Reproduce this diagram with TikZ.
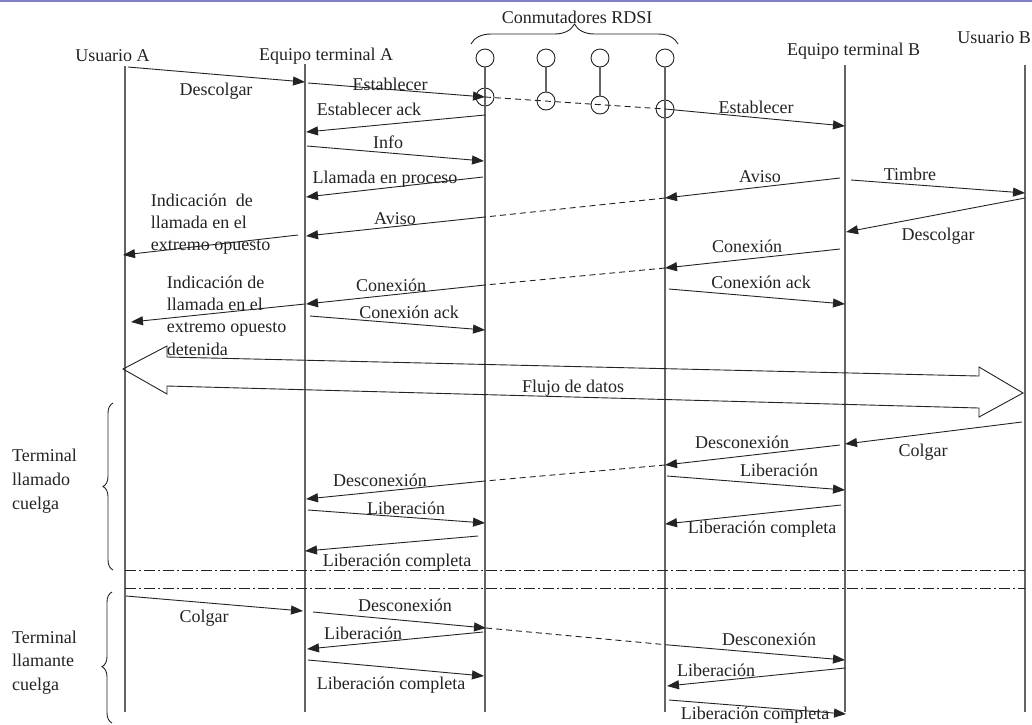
\documentclass[tikz,border=0pt]{standalone}
\usepackage{fontspec}
\setmainfont{Liberation Serif}
\usetikzlibrary{arrows.meta,decorations.pathreplacing}
\definecolor{ink}{RGB}{35,35,35}
\definecolor{lifeg}{RGB}{100,100,100}
\definecolor{topband}{RGB}{128,128,200}
% a signal between two lifelines: name, start point, end point
\newcommand\sigline[4][msg]{%
  \coordinate (#2-a) at (#3);
  \coordinate (#2-b) at (#4);
  \draw[#1] (#2-a) -- (#2-b);}
\begin{document}
\begin{tikzpicture}[x=1pt,y=-1pt,
  font=\fontsize{18}{22}\selectfont,
  lbl/.style={anchor=base,inner sep=0pt,text=ink},
  blk/.style={anchor=base west,inner sep=0pt,text=ink,align=left},
  life/.style={draw=lifeg,line width=1.3pt},
  msg/.style={draw=ink,line width=0.9pt,-{Triangle[length=12pt,width=9pt]}},
  relay/.style={draw=ink,line width=0.9pt,dash pattern=on 6pt off 4pt},
  sw/.style={circle,draw=ink,line width=0.9pt,minimum size=18pt,inner sep=0pt},
  phaseline/.style={draw=ink,line width=0.8pt,dash pattern=on 11pt off 3pt on 2pt off 3pt},
  grp/.style={draw=ink,line width=0.9pt,decorate,decoration={brace,amplitude=#1}},
]
\clip (0,0) rectangle (1032,724);
\draw[topband,line width=1.5pt] (0,1) -- (1032,1);

% headers
\node[lbl] (hUA)  at (112.5,61) {Usuario A};
\node[lbl] (hETA) at (326,60)   {Equipo terminal A};
\node[lbl] (hSW)  at (577,23.5) {Conmutadores RDSI};
\node[lbl] (hETB) at (853.5,55) {Equipo terminal B};
\node[lbl] (hUB)  at (994,43.5) {Usuario B};

% switches
\node[sw] (s1a) at (485,58) {};
\node[sw] (s2a) at (546,58) {};
\node[sw] (s3a) at (600,58) {};
\node[sw] (s4a) at (665,58) {};
\node[sw] (s1b) at (485,97) {};
\node[sw] (s2b) at (546,101) {};
\node[sw] (s3b) at (600,105) {};
\node[sw] (s4b) at (665,109) {};
\draw[grp=20pt] (471,44) -- (678,44);

% lifelines
\coordinate (uaT) at (125,66);  \coordinate (uaB) at (125,712);
\coordinate (etaT) at (305,64); \coordinate (etaB) at (305,712);
\coordinate (s1B) at (485,712); \coordinate (s4B) at (665,712);
\coordinate (etbT) at (845,65); \coordinate (etbB) at (845,712);
\coordinate (ubT) at (1025,65); \coordinate (ubB) at (1025,712);
\draw[life] (uaT) -- (uaB);
\draw[life] (etaT) -- (etaB);
\draw[life] (s1a.south) -- (s1B);
\draw[life] (s2a.south) -- (s2b.north);
\draw[life] (s3a.south) -- (s3b.north);
\draw[life] (s4a.south) -- (s4B);
\draw[life] (etbT) -- (etbB);
\draw[life] (ubT) -- (ubB);
\draw[relay] (s1b.center) -- (s4b.center);

% call set-up
\sigline{m01}{128,67}{305,82}
\node[lbl] (t01) at (216,95) {Descolgar};
\coordinate (m02-a) at (308,83);
\draw[msg] (m02-a) -- (s1b.center);
\node[lbl] (t02) at (390,90) {Establecer};
\coordinate (m03-b) at (845,126);
\draw[msg] (s4b.center) -- (m03-b);
\node[lbl] (t03) at (756,113) {Establecer};
\sigline{m04}{485,115}{306,132}
\node[lbl] (t04) at (369,115) {Establecer ack};
\sigline{m05}{307,146}{484,161}
\node[lbl] (t05) at (388,148) {Info};
\sigline{m06}{483,177}{306,197}
\node[lbl] (t06) at (385,183) {Llamada en proceso};
\sigline{m07}{840,178}{665,198}
\node[lbl] (t07) at (760,182) {Aviso};
\sigline{m08}{485,217}{306,236}
\draw[relay] (m07-b) -- (m08-a);
\node[lbl] (t08) at (395,224) {Aviso};
\sigline{m09}{298,235}{123,255}
% multi-line blocks are anchored at the baseline of their last line
\node[blk,font=\fontsize{18}{21.7}\selectfont] (t09) at (150.7,250)
  {Indicación\ \ de\\llamada en el\\extremo opuesto};
\sigline{m10}{851,180}{1025,193}
\node[lbl] (t10) at (910,180) {Timbre};
\sigline{m11}{1025,198}{846,232}
\node[lbl] (t11) at (938,240) {Descolgar};
\sigline{m12}{840,249}{665,268}
\node[lbl] (t12) at (747,252) {Conexión};
\sigline{m13}{485,285}{306,304}
\draw[relay] (m12-b) -- (m13-a);
\node[lbl] (t13) at (391,291) {Conexión};
\sigline{m14}{305,304}{131,322}
\node[blk,font=\fontsize{18}{22.2}\selectfont] (t14) at (166.7,355)
  {Indicación de\\llamada en el\\extremo opuesto\\detenida};
\sigline{m15}{669,289}{845,304}
\node[lbl] (t15) at (761,288) {Conexión ack};
\sigline{m16}{310,316}{485,330}
\node[lbl] (t16) at (409,318) {Conexión ack};

% data transfer
\draw[ink,line width=0.9pt] (123,369) -- (167,346) -- (167,357) -- (979,376)
  -- (979,367) -- (1023,393) -- (979,417) -- (979,408) -- (167,386)
  -- (167,394) -- cycle;
\node[lbl] (t17) at (573,392) {Flujo de datos};

% called terminal hangs up
\sigline{m17}{1022,422}{845,444}
\node[lbl] (t18) at (923,456) {Colgar};
\sigline{m18}{840,445}{665,465}
\node[lbl] (t19) at (742,448) {Desconexión};
\sigline{m19}{485,481}{306,499}
\draw[relay] (m18-b) -- (m19-a);
\node[lbl] (t20) at (380,486) {Desconexión};
\sigline{m20}{667,476}{845,490}
\node[lbl] (t21) at (779,476) {Liberación};
\sigline{m21}{308,510}{485,523}
\node[lbl] (t22) at (406,514) {Liberación};
\sigline{m22}{841,505}{665,524}
\node[lbl] (t23) at (762,533) {Liberación completa};
\sigline{m23}{478,536}{305,551}
\node[lbl] (t24) at (397,566) {Liberación completa};

% separators
\coordinate (p1a) at (125,570); \coordinate (p1b) at (1025,570);
\coordinate (p2a) at (125,588); \coordinate (p2b) at (1025,588);
\draw[phaseline] (p1a) -- (p1b);
\draw[phaseline] (p2a) -- (p2b);

% calling terminal hangs up
\sigline{m24}{126,596}{303,611}
\node[lbl] (t25) at (204,622) {Colgar};
\sigline{m25}{313,612}{486,628}
\node[lbl] (t26) at (405,611) {Desconexión};
\sigline{m26}{669,645}{845,660}
\draw[relay] (m25-b) -- (m26-a);
\node[lbl] (t27) at (769,645) {Desconexión};
\sigline{m27}{483,632}{307,649}
\node[lbl] (t28) at (363,639) {Liberación};
\sigline{m28}{845,668}{667,686}
\node[lbl] (t29) at (716,676) {Liberación};
\sigline{m29}{308,660}{484,676}
\node[lbl] (t30) at (391,689) {Liberación completa};
\sigline{m30}{669,700}{846,714}
\node[lbl] (t31) at (755,719) {Liberación completa};

% phase braces
\draw[grp=10pt] (113,570) -- (113,403);
\node[blk,font=\fontsize{18}{23.8}\selectfont] (g1) at (12,509.3)
  {Terminal\\llamado\\cuelga};
\draw[grp=10pt,decoration={aspect=0.43}] (112,723) -- (112,592);
\node[blk,font=\fontsize{18}{23.3}\selectfont] (g2) at (12,690)
  {Terminal\\llamante\\cuelga};
\end{tikzpicture}
\end{document}
